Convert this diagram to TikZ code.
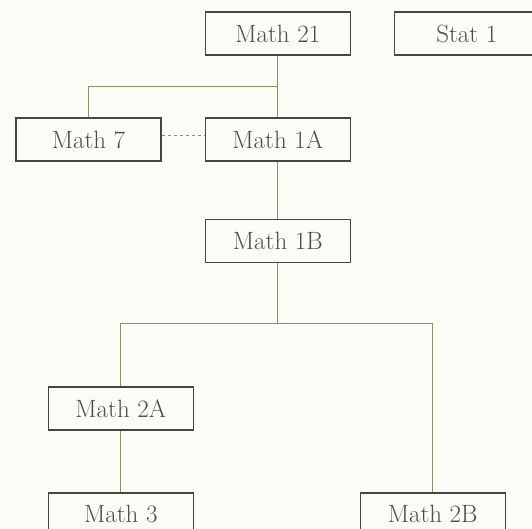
\documentclass[tikz,border=0pt]{standalone}
\usepackage{xcolor}
\definecolor{paper}{HTML}{FCFCF6}
\definecolor{olive}{HTML}{9A8A5C}
\definecolor{boxline}{HTML}{454545}
\definecolor{ink}{HTML}{4C4C4C}
\tikzset{
  course/.style={draw=boxline, line width=1.4pt, fill=paper, text=ink,
    minimum width=145pt, minimum height=43pt, inner sep=0pt,
    font=\fontsize{25}{30}\selectfont},
  link/.style={draw=olive, line width=1pt},
  coreq/.style={draw=olive, line width=1pt, dashed}
}
\begin{document}
\begin{tikzpicture}[x=1pt, y=-1pt]
  \fill[paper] (0,0) rectangle (532,529);
  \useasboundingbox (0,0) rectangle (532,529);
  \node[course] (m21) at (277.8, 33.6) {Math 21};
  \node[course] (stat1) at (466.8, 33.6) {Stat 1};
  \node[course] (m7) at (88.5, 139.6) {Math 7};
  \node[course] (m1a) at (277.8, 139.6) {Math 1A};
  \node[course] (m1b) at (277.8, 241.2) {Math 1B};
  \node[course] (m2a) at (120.8, 408.4) {Math 2A};
  \node[course] (m3) at (120.8, 514.4) {Math 3};
  \node[course] (m2b) at (432.7, 514.4) {Math 2B};
  \coordinate (j1) at (277.8, 86.5);
  \coordinate (j2) at (277.8, 323);
  \draw[link] (m21.south) -- (m1a.north);
  \draw[link] (m7.north) |- (j1);
  \draw[coreq] ([yshift=4pt]m7.east) -- ([yshift=4pt]m1a.west);
  \draw[link] (m1a.south) -- (m1b.north);
  \draw[link] (m1b.south) -- (j2);
  \draw[link] (m2a.north) |- (j2);
  \draw[link] (m2b.north) |- (j2);
  \draw[link] (m2a.south) -- (m3.north);
\end{tikzpicture}
\end{document}
